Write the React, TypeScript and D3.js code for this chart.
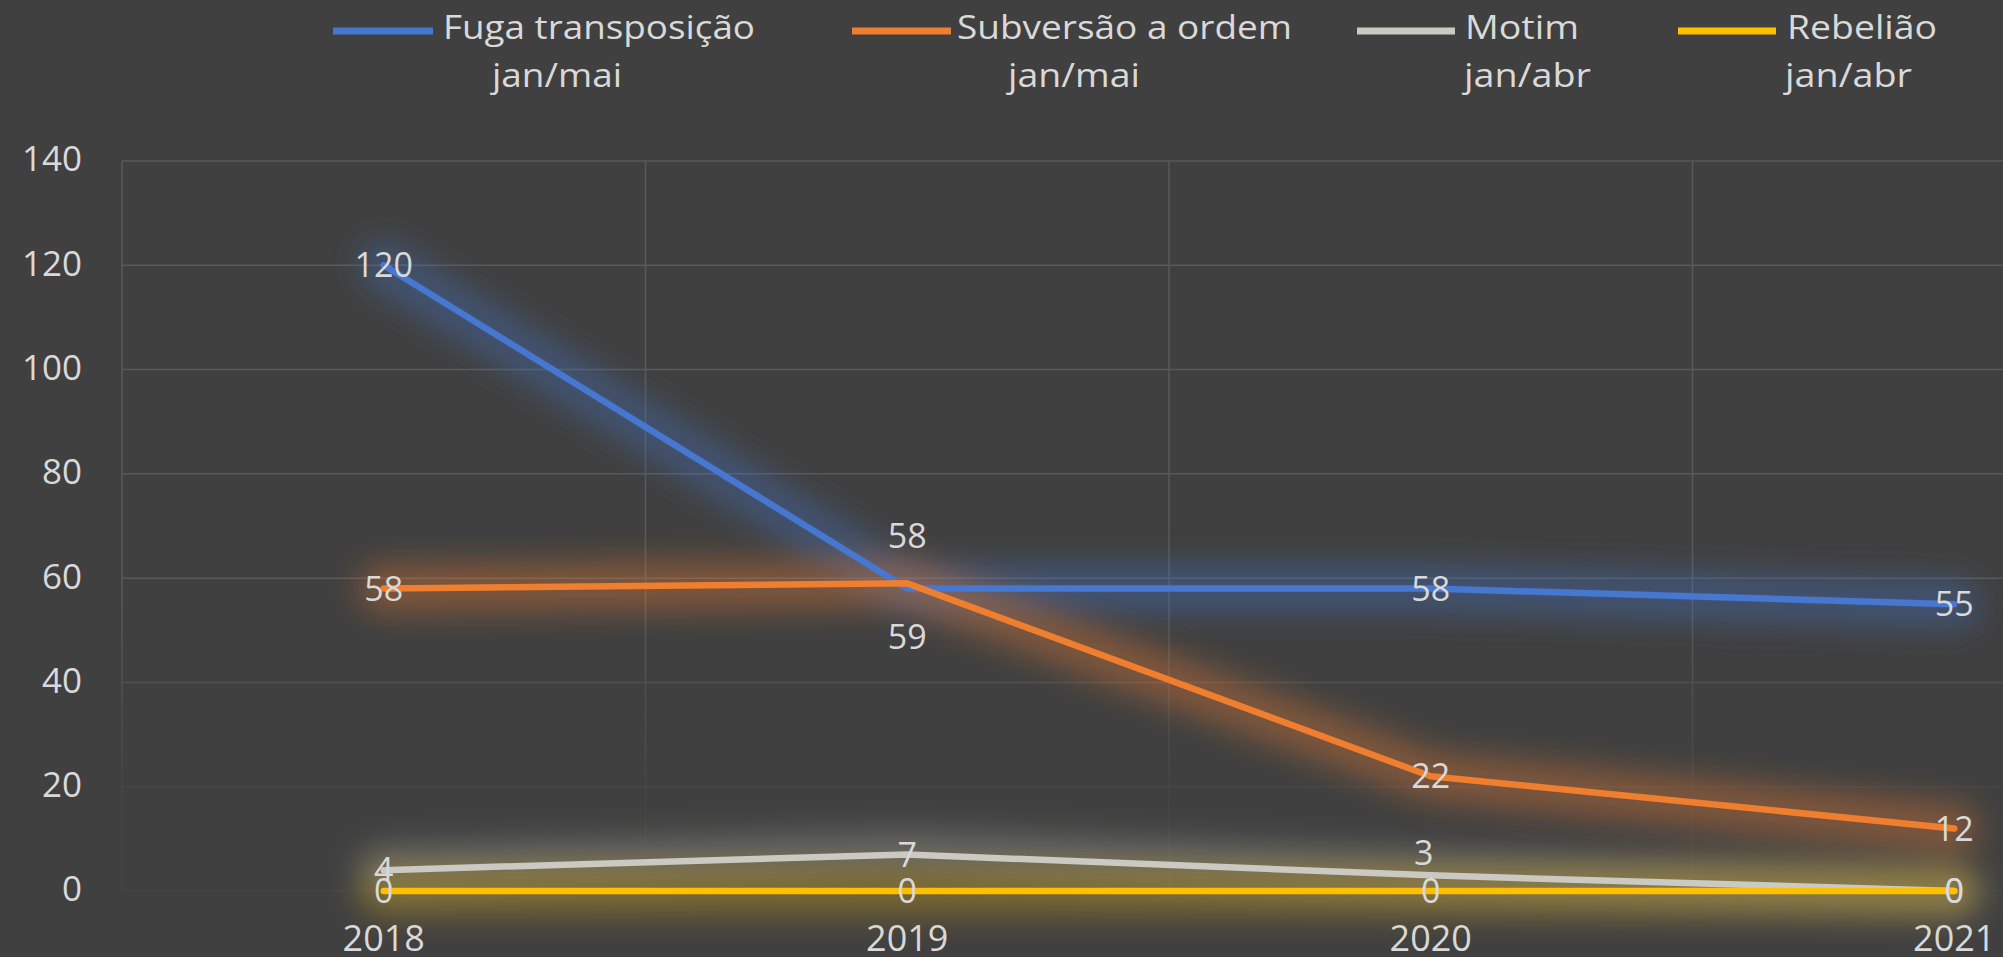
import React from 'react';
import * as d3 from 'd3';

// ---- data ----
const years = ['2018', '2019', '2020', '2021'];
const fugaTransposicao = [120, 58, 58, 55];
const subversaoOrdem = [58, 59, 22, 12];
const motim = [4, 7, 3, 0];
const rebeliao = [0, 0, 0, 0];
const seriesTitles = ['Fuga transposição', 'Subversão a ordem', 'Motim', 'Rebelião'];
const seriesPeriods = ['jan/mai', 'jan/mai', 'jan/abr', 'jan/abr'];
const yTicks = [0, 20, 40, 60, 80, 100, 120, 140];
// data-label placement per point (Excel style)
const labelPlacement = [
  ['center', 'farAbove', 'center', 'center'],
  ['center', 'farBelow', 'center', 'center'],
  ['center', 'center', 'above', 'center'],
  ['center', 'center', 'center', 'center'],
];

// ---- style / layout ----
const W = 2003;
const H = 957;
const BG = '#404040';
const GRID = '#595959';
const TEXT = '#d9d9d9';
const COLORS = ['#4677D1', '#EF7E2F', '#CACAC2', '#FFC000'];
const GLOW_OPACITY = [0.34, 0.36, 0.26, 0.28];
const FONT = "'Open Sans', 'Segoe UI', 'DejaVu Sans', sans-serif";
const PLACE_SHIFT: Record<string, [number, number]> = {
  center: [0, 0],
  above: [-7, -22],
  farAbove: [0, -53],
  farBelow: [0, 54],
};

// legend layout
const LEGEND = [
  { x1: 333, x2: 433, t1: 443, w1: 312, t2: 492, w2: 130 },
  { x1: 852, x2: 951, t1: 957, w1: 335, t2: 1008, w2: 132 },
  { x1: 1357, x2: 1455, t1: 1465, w1: 114, t2: 1464, w2: 127 },
  { x1: 1678, x2: 1776, t1: 1787, w1: 150, t2: 1785, w2: 127 },
];

export default function App() {
  const series = [fugaTransposicao, subversaoOrdem, motim, rebeliao];

  const xBand = d3.scaleBand<string>().domain(years).range([122, 2216]).padding(0);
  const xc = (d: string) => (xBand(d) as number) + xBand.bandwidth() / 2;
  const y = d3.scaleLinear().domain([0, 140]).range([891, 161]);

  const line = d3
    .line<number>()
    .x((_, i) => xc(years[i]))
    .y((v) => y(v));

  return (
    <svg
      width={W}
      height={H}
      style={{ position: 'absolute', left: 0, top: 0, background: BG, display: 'block' }}
      fontFamily={FONT}
    >
      <defs>
        <filter id="glow" filterUnits="userSpaceOnUse" x="0" y="0" width={W} height={H}>
          <feGaussianBlur stdDeviation="15" />
        </filter>
        <linearGradient id="gridFade" gradientUnits="userSpaceOnUse" x1="0" y1="600" x2="0" y2="800">
          <stop offset="0" stopColor="#fff" stopOpacity="1" />
          <stop offset="1" stopColor="#fff" stopOpacity="0.2" />
        </linearGradient>
        <mask id="gridMask" maskUnits="userSpaceOnUse" x="0" y="0" width={W} height={H}>
          <rect x="0" y="0" width={W} height={H} fill="url(#gridFade)" />
        </mask>
      </defs>
      <rect x="0" y="0" width={W} height={H} fill={BG} />

      {/* grid */}
      <g mask="url(#gridMask)" stroke={GRID} strokeWidth={1.5}>
        {yTicks.map((t) => (
          <line key={'h' + t} x1={122} x2={W} y1={y(t)} y2={y(t)} />
        ))}
        {years.map((yr) => (
          <line key={'v' + yr} x1={xBand(yr)} x2={xBand(yr)} y1={y(140)} y2={y(0)} />
        ))}
      </g>

      {/* y tick labels */}
      <g fill={TEXT} fontSize={35} textAnchor="end">
        {yTicks.map((t) => (
          <text key={'yt' + t} x={82} y={y(t) - 2 + 0.357 * 35}>
            {t}
          </text>
        ))}
      </g>

      {/* x labels */}
      <g fill={TEXT} fontSize={36} textAnchor="middle">
        {years.map((yr) => (
          <text key={'xl' + yr} x={xc(yr)} y={951}>
            {yr}
          </text>
        ))}
      </g>

      {/* glows */}
      {series.map((s, si) => (
        <path
          key={'g' + si}
          d={line(s) as string}
          fill="none"
          stroke={COLORS[si]}
          strokeWidth={50}
          strokeOpacity={GLOW_OPACITY[si]}
          strokeLinecap="round"
          strokeLinejoin="round"
          filter="url(#glow)"
        />
      ))}

      {/* lines */}
      {series.map((s, si) => (
        <path
          key={'l' + si}
          d={line(s) as string}
          fill="none"
          stroke={COLORS[si]}
          strokeWidth={6.5}
          strokeLinecap="round"
          strokeLinejoin="round"
        />
      ))}

      {/* data labels */}
      <g fill={TEXT} fontSize={34} textAnchor="middle">
        {series.map((s, si) =>
          s.map((v, i) => {
            const [dx, dy] = PLACE_SHIFT[labelPlacement[si][i]];
            return (
              <text key={'dl' + si + '-' + i} x={xc(years[i]) + dx} y={y(v) + dy + 0.357 * 34}>
                {v}
              </text>
            );
          })
        )}
      </g>

      {/* legend */}
      <g fill={TEXT} fontSize={32}>
        {LEGEND.map((L, i) => (
          <g key={'lg' + i}>
            <line x1={L.x1} x2={L.x2} y1={31} y2={31} stroke={COLORS[i]} strokeWidth={7} />
            <text x={L.t1} y={39} textLength={L.w1} lengthAdjust="spacingAndGlyphs">
              {seriesTitles[i]}
            </text>
            <text x={L.t2} y={87} textLength={L.w2} lengthAdjust="spacingAndGlyphs">
              {seriesPeriods[i]}
            </text>
          </g>
        ))}
      </g>
    </svg>
  );
}
